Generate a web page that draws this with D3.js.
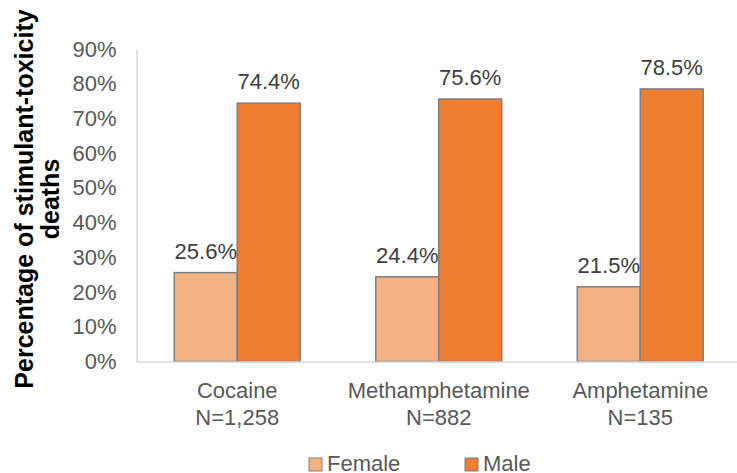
<!DOCTYPE html>
<html>
  <head>
    <meta charset="utf-8">
    <title>Stimulant-toxicity deaths by sex</title>
    <script src="https://cdnjs.cloudflare.com/ajax/libs/d3/7.8.5/d3.min.js"></script>
    <style>
      body { margin: 0; background: #fff; }
      text { font-family: "Liberation Sans", Arial, sans-serif; }
    </style>
  </head>
  <body>

    <script>
      // data
      var drugs   = ["Cocaine", "Methamphetamine", "Amphetamine"];
      var counts  = ["N=1,258", "N=882", "N=135"];
      var series  = ["Female", "Male"];
      var female  = [25.6, 24.4, 21.5];
      var male    = [74.4, 75.6, 78.5];
      var yTicks  = [0, 10, 20, 30, 40, 50, 60, 70, 80, 90];
      var colors  = ["#F4B183", "#ED7D31"];

      var values = [female, male];

      var svg = d3.select("body").append("svg")
        .attr("width", 737)
        .attr("height", 473);

      var y = d3.scaleLinear().domain([0, 90]).range([361.5, 49]);

      var x0 = d3.scaleBand().domain(drugs)
        .range([136.5, 741])
        .paddingInner(0.375)
        .paddingOuter(0.1875);

      var x1 = d3.scaleBand().domain(series)
        .range([0, x0.bandwidth()]);

      // y axis
      var yAxis = svg.append("g")
        .attr("transform", "translate(136.5,0)")
        .call(d3.axisLeft(y).tickValues(yTicks).tickSize(0).tickSizeOuter(0)
          .tickPadding(20).tickFormat(function (d){ return d + "%"; }));
      yAxis.select(".domain").attr("stroke", "#d9d9d9").attr("stroke-width", 1.5);
      yAxis.selectAll("text")
        .attr("fill", "#595959")
        .style("font-size", "22px");

      // bars
      var groups = svg.selectAll("g.drug").data(drugs).enter().append("g")
        .attr("class", "drug")
        .attr("transform", function (d){ return "translate(" + x0(d) + ",0)"; });

      groups.selectAll("rect")
        .data(function (d, i){ return series.map(function (s, j){ return {s: s, v: values[j][i], c: colors[j]}; }); })
        .enter().append("rect")
        .attr("x", function (d){ return x1(d.s); })
        .attr("y", function (d){ return y(d.v); })
        .attr("width", x1.bandwidth())
        .attr("height", function (d){ return y(0) - y(d.v); })
        .attr("fill", function (d){ return d.c; })
        .attr("stroke", "#7f7f7f")
        .attr("stroke-width", 1.5);

      groups.selectAll("text.val")
        .data(function (d, i){ return series.map(function (s, j){ return {s: s, v: values[j][i]}; }); })
        .enter().append("text")
        .attr("class", "val")
        .attr("x", function (d){ return x1(d.s) + x1.bandwidth() / 2; })
        .attr("y", function (d){ return y(d.v) - 14; })
        .attr("text-anchor", "middle")
        .attr("fill", "#404040")
        .style("font-size", "22px")
        .text(function (d){ return d.v.toFixed(1) + "%"; });

      // x axis
      var xAxis = svg.append("g")
        .attr("transform", "translate(0," + y(0) + ")")
        .call(d3.axisBottom(x0).tickSize(0).tickSizeOuter(0).tickFormat(""));
      xAxis.select(".domain").attr("stroke", "#d9d9d9").attr("stroke-width", 1.5);

      var cat = svg.selectAll("text.cat").data(drugs).enter().append("text")
        .attr("class", "cat")
        .attr("text-anchor", "middle")
        .attr("fill", "#595959")
        .style("font-size", "22px")
        .attr("x", function (d){ return x0(d) + x0.bandwidth() / 2; })
        .attr("y", 398);
      cat.append("tspan").text(function (d){ return d; });
      cat.append("tspan")
        .attr("x", function (d){ return x0(d) + x0.bandwidth() / 2; })
        .attr("dy", 27)
        .text(function (d, i){ return counts[i]; });

      // y title
      svg.append("text")
        .attr("transform", "translate(33,199) rotate(-90)")
        .attr("text-anchor", "middle")
        .style("font-size", "25px")
        .style("font-weight", "bold")
        .attr("fill", "#000")
        .selectAll("tspan").data(["Percentage of stimulant-toxicity", "deaths"]).enter()
        .append("tspan")
        .attr("x", 0)
        .attr("y", function (d, i){ return i * 26; })
        .text(function (d){ return d; });

      // legend
      var legendX = [309, 465];
      var legend = svg.selectAll("g.legend").data(series).enter().append("g")
        .attr("class", "legend")
        .attr("transform", function (d, i){ return "translate(" + legendX[i] + ",458)"; });
      legend.append("rect")
        .attr("width", 13).attr("height", 13)
        .attr("fill", function (d, i){ return colors[i]; })
        .attr("stroke", "#7f7f7f")
        .attr("stroke-width", 1);
      legend.append("text")
        .attr("x", 18)
        .attr("y", 13)
        .attr("fill", "#595959")
        .style("font-size", "22px")
        .text(function (d){ return d; });
    </script>

  </body>
</html>
